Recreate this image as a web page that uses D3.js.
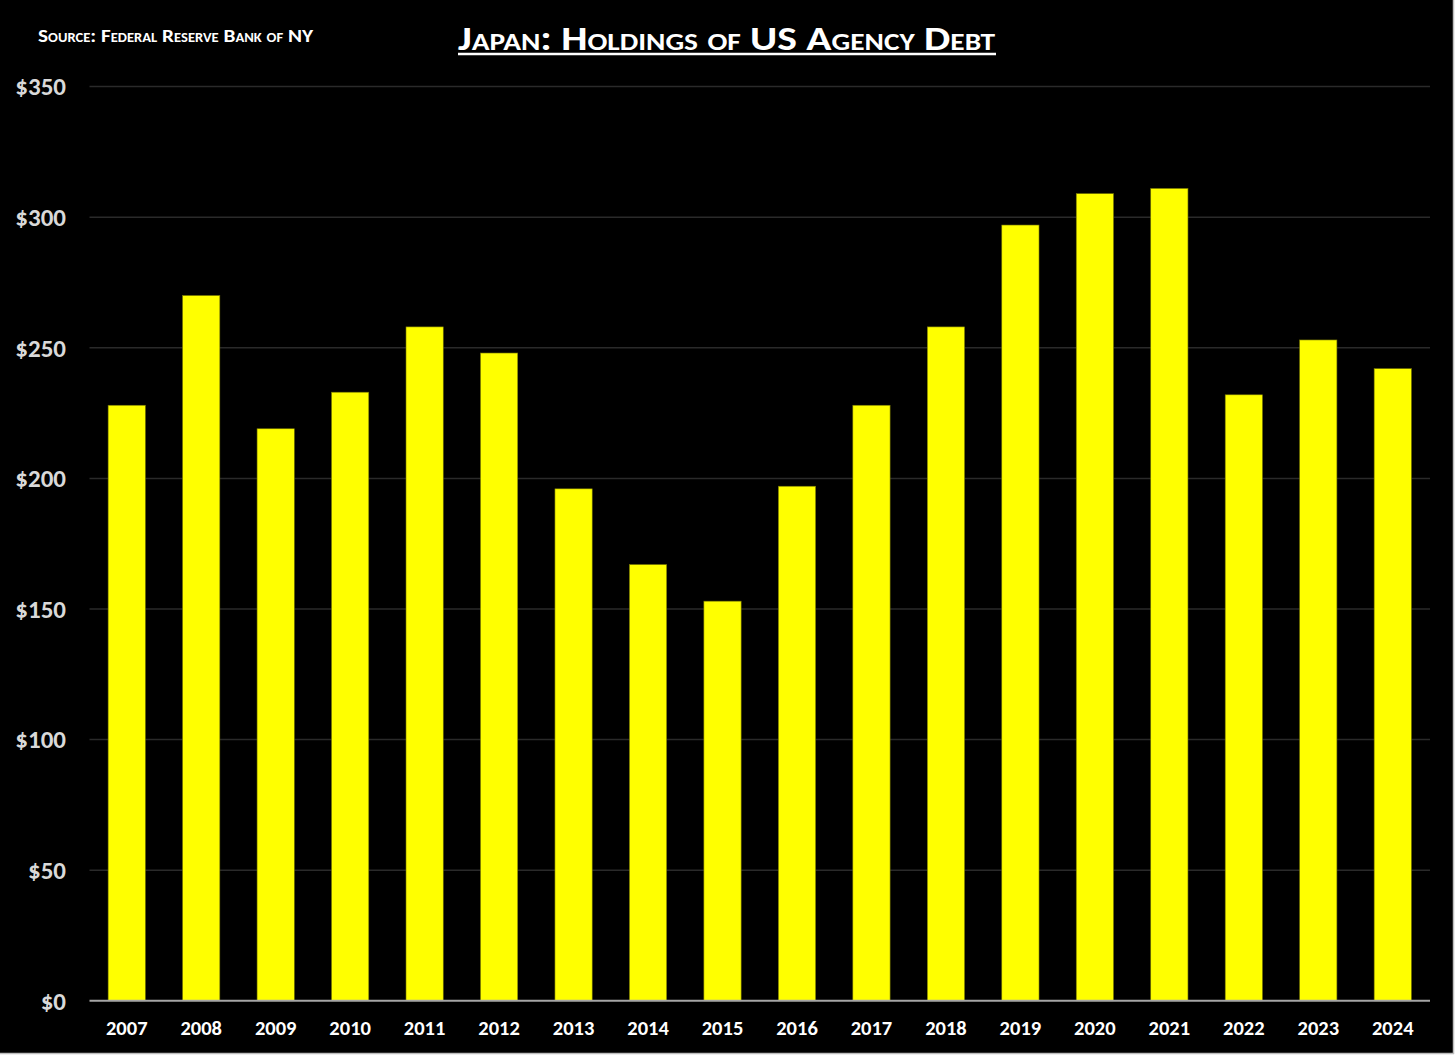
<!DOCTYPE html>
<html>
<head>
<meta charset="utf-8">
<script src="https://cdn.jsdelivr.net/npm/d3@7"></script>
<style>
  html, body { margin: 0; padding: 0; background: #ffffff; }
  svg { display: block; }
  text { font-family: Carlito, "Open Sans", "Noto Sans", sans-serif; font-weight: 700; }
</style>
</head>
<body>
<svg id="chart" width="1456" height="1058"></svg>
<script>
const years = ["2007","2008","2009","2010","2011","2012","2013","2014","2015","2016","2017","2018","2019","2020","2021","2022","2023","2024"];
const holdings = [228, 270, 219, 233, 258, 248, 196, 167, 153, 197, 228, 258, 297, 309, 311, 232, 253, 242];
const yTicks = [0, 50, 100, 150, 200, 250, 300, 350];
const titleText = "Japan: Holdings of US Agency Debt";
const sourceText = "Source: Federal Reserve Bank of NY";

(function () {
const svg = d3.select("#chart");

// background panel with thin gray border on right and bottom
svg.append("rect").attr("x", 0).attr("y", 0).attr("width", 1453).attr("height", 1053).attr("fill", "#000000");
svg.append("line").attr("x1", 1453.5).attr("x2", 1453.5).attr("y1", 0).attr("y2", 1054)
  .attr("stroke", "#bdbdbd").attr("stroke-width", 1.5);
svg.append("line").attr("x1", 0).attr("x2", 1454).attr("y1", 1053.5).attr("y2", 1053.5)
  .attr("stroke", "#bdbdbd").attr("stroke-width", 1.5);

const plotLeft = 89.5, plotRight = 1430, plotTop = 86.6, plotBottom = 1000.8;

const x = d3.scaleBand().domain(years).range([plotLeft, plotRight]).paddingInner(0.5).paddingOuter(0.25);
const y = d3.scaleLinear().domain([0, 350]).range([plotBottom, plotTop]);

// gridlines
svg.append("g")
  .selectAll("line")
  .data(yTicks.filter(d => d > 0))
  .join("line")
  .attr("x1", plotLeft).attr("x2", plotRight)
  .attr("y1", d => y(d)).attr("y2", d => y(d))
  .attr("stroke", "#2a2a2a").attr("stroke-width", 1.5);

// y axis labels
const yAxis = d3.axisLeft(y).tickValues(yTicks).tickSize(0).tickPadding(0).tickFormat(d => "$" + d);
const gy = svg.append("g").attr("transform", "translate(66,0)").call(yAxis);
gy.select(".domain").remove();
gy.selectAll("text")
  .attr("fill", "#d9d9d9")
  .attr("font-size", 25)
  .attr("font-family", "Carlito, 'Open Sans', sans-serif")
  .attr("font-weight", 700)
  .attr("dy", "0.33em");

// bars
svg.append("g")
  .selectAll("rect")
  .data(holdings)
  .join("rect")
  .attr("x", (d, i) => x(years[i]))
  .attr("width", x.bandwidth())
  .attr("y", d => y(d))
  .attr("height", d => y(0) - y(d))
  .attr("fill", "#ffff00")
  .attr("stroke", "#7a7a00")
  .attr("stroke-width", 0.6);

// x axis
const xAxis = d3.axisBottom(x).tickSize(0).tickPadding(0);
const gx = svg.append("g").attr("transform", `translate(0,${plotBottom})`).call(xAxis);
gx.select(".domain").remove();
gx.selectAll("text")
  .attr("fill", "#ffffff")
  .attr("font-size", 20.5)
  .attr("font-family", "Carlito, 'Open Sans', sans-serif")
  .attr("font-weight", 700)
  .attr("y", 27.5)
  .attr("dy", "0.33em");

svg.append("line")
  .attr("x1", plotLeft).attr("x2", plotRight)
  .attr("y1", y(0)).attr("y2", y(0))
  .attr("stroke", "#a6a6a6").attr("stroke-width", 2);

// title
svg.append("text")
  .attr("x", 458).attr("y", 50)
  .attr("fill", "#ffffff")
  .attr("font-size", 34)
  .attr("font-variant", "small-caps")
  .attr("textLength", 537)
  .attr("lengthAdjust", "spacingAndGlyphs")
  .text(titleText);
svg.append("line")
  .attr("x1", 458).attr("x2", 996).attr("y1", 54).attr("y2", 54)
  .attr("stroke", "#ffffff").attr("stroke-width", 2.5);

// source
svg.append("text")
  .attr("x", 38).attr("y", 42)
  .attr("fill", "#ffffff")
  .attr("font-size", 19)
  .attr("font-variant", "small-caps")
  .attr("textLength", 275)
  .attr("lengthAdjust", "spacingAndGlyphs")
  .text(sourceText);
})();
</script>
</body>
</html>
